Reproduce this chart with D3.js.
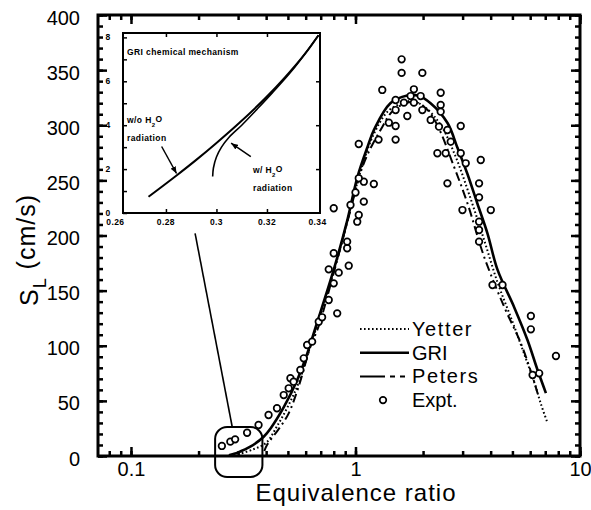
<!DOCTYPE html>
<html lang="en">
<head>
<meta charset="UTF-8">
<title>Laminar flame speed vs equivalence ratio</title>
<script src="https://d3js.org/d3.v7.min.js"></script>
<style>
  body { margin: 0; background: #fff; }
  svg { font-family: "Liberation Sans", Arial, Helvetica, sans-serif; }
  .frame { fill: none; stroke: #000; stroke-width: 3; }
  .ax .domain { display: none; }
  .ax .tick line { stroke: #000; stroke-width: 2.5; }
  .ax .tick text { font-size: 20px; fill: #000; }
  .inset-ax .domain { display: none; }
  .inset-ax .tick line { stroke: #000; stroke-width: 1.5; }
  .inset-lab { font-size: 8.5px; font-weight: bold; letter-spacing: 0.4px; }
</style>
</head>
<body>
<svg id="chart" width="591" height="510"></svg>
<script>
// GRI mechanism (solid)
const griPhi = [0.273, 0.286, 0.30, 0.34, 0.39, 0.42, 0.48, 0.55, 0.61, 0.665, 0.80, 0.92, 1.02, 1.13, 1.21, 1.43, 1.70, 1.89, 2.16, 2.57, 2.84, 3.15, 3.49, 3.87, 4.29, 5.09, 5.84, 6.47, 7.05];
const griSL  = [0.7, 1.8, 3.2, 8.4, 17.5, 25.5, 44.5, 69, 93, 117, 169, 214, 253, 280, 296, 320, 327, 327, 320, 302, 280, 256, 229, 202, 169, 135, 105, 78, 57];

// Yetter (dotted)
const yetterPhi = [0.30, 0.35, 0.40, 0.45, 0.50, 0.56, 0.63, 0.72, 0.82, 0.93, 1.05, 1.20, 1.40, 1.62, 1.80, 2.05, 2.40, 2.80, 3.20, 3.70, 4.30, 5.00, 5.70, 6.30, 6.70, 7.18];
const yetterSL  = [1.5, 6, 12, 28, 45, 67, 100, 136, 175, 217, 257, 291, 313, 320, 322, 316, 300, 271, 238, 199, 157, 122, 90, 65, 47, 29.6];

// Peters (dash-dot)
const petersPhi = [0.3925, 0.4035, 0.463, 0.504, 0.558, 0.630, 0.686, 0.829, 0.933, 1.089, 1.293, 1.483, 1.82, 2.09, 2.316, 2.747, 3.153, 3.739, 4.592, 5.452, 6.15, 6.472];
const petersSL  = [4.5, 10, 26.6, 38.7, 62.9, 99.1, 118, 177.8, 217, 265.5, 295.7, 313.8, 321.4, 314, 300, 262.4, 229.2, 180.8, 135.4, 102.2, 71.9, 56.9];

// Experiments (open circles)
const exptPhi = [0.254,0.277,0.291,0.329,0.370,0.410,0.447,0.479,0.504,0.513,
  0.530,0.568,0.588,0.609,0.641,0.686,0.710,0.829,0.760,0.800,
  0.760,0.842,0.933,0.800,0.918,0.918,1.018,1.034,0.800,0.950,
  1.089,1.000,1.207,1.089,1.034,1.034,1.267,1.509,1.408,1.509,
  1.316,1.605,1.605,1.985,1.820,2.396,1.509,1.643,1.820,1.760,
  1.951,1.509,1.985,1.701,2.162,2.354,2.567,2.943,2.396,2.396,
  2.656,2.316,2.522,2.943,3.098,3.614,2.567,3.552,3.552,2.995,
  4.006,3.552,3.552,3.552,4.076,4.517,6.042,6.042,7.814,6.150,6.580];
const exptSL = [9.1,13.0,15.1,21.1,28.1,37.2,43.3,55.3,61.4,70.5,
  67.4,78.0,88.6,100.7,103.7,121.8,125.8,129.4,141.5,156.6,
  169.3,166.3,172.6,183.9,188.4,194.4,212.5,218.6,224.7,227.7,
  230.7,239.0,246.7,248.8,251.9,283.0,287.0,287.0,302.3,299.3,
  332.0,359.8,347.5,347.5,332.6,329.5,322.9,320.5,320.5,326.5,
  326.5,313.8,313.8,308.4,304.8,298.7,295.7,299.3,318.4,312.3,
  285.1,274.6,274.6,274.6,265.5,268.5,247.3,247.3,234.6,223.1,
  223.1,212.5,205.0,194.4,155.1,155.1,127.0,114.9,90.7,73.5,75.0];

const yTicks = [0, 50, 100, 150, 200, 250, 300, 350, 400];
const xMajor = [0.1, 1, 10];

// inset: GRI near the lean limit
const woPhi = [0.2731, 0.2842, 0.2920, 0.2999, 0.3090, 0.3195, 0.3273, 0.3352, 0.3404];
const woSL  = [0.74, 1.71, 2.42, 3.18, 4.10, 5.25, 6.20, 7.27, 8.10];
const wPhi  = [0.2985, 0.2988, 0.3000, 0.3020, 0.3050, 0.3100, 0.3160, 0.3220, 0.3300, 0.3404];
const wSL   = [1.66, 2.05, 2.55, 3.00, 3.45, 4.00, 4.72, 5.46, 6.50, 8.10];
const insetXTicks = [0.26, 0.28, 0.30, 0.32, 0.34];
const insetXLabels = ["0.26", "0.28", "0.3", "0.32", "0.34"];
const insetYTicks = [0, 2, 4, 6, 8];

const svg = d3.select("#chart");
const x = d3.scaleLog().domain([0.0713, 10]).range([98, 580]);
const y = d3.scaleLinear().domain([0, 400]).range([456, 15]);

// axes, ticks inward on all four sides
const minorY = d3.range(0, 401, 10);
svg.append("g").attr("class", "ax").attr("transform", "translate(98,0)")
  .call(d3.axisLeft(y).tickValues(minorY).tickSize(-5).tickFormat(""));
svg.append("g").attr("class", "ax").attr("transform", "translate(98,0)")
  .call(d3.axisLeft(y).tickValues(yTicks).tickSize(-9).tickPadding(18))
  .selectAll("text").attr("dy", "0.45em");
svg.append("g").attr("class", "ax").attr("transform", "translate(580,0)")
  .call(d3.axisRight(y).tickValues(minorY).tickSize(-5).tickFormat(""));
svg.append("g").attr("class", "ax").attr("transform", "translate(580,0)")
  .call(d3.axisRight(y).tickValues(yTicks).tickSize(-9).tickFormat(""));

svg.append("g").attr("class", "ax").attr("transform", "translate(0,456)")
  .call(d3.axisBottom(x).tickValues(x.ticks()).tickSize(-5).tickFormat(""));
svg.append("g").attr("class", "ax").attr("transform", "translate(0,456)")
  .call(d3.axisBottom(x).tickValues(xMajor).tickSize(-9).tickPadding(6).tickFormat(d3.format("~g")));
svg.append("g").attr("class", "ax").attr("transform", "translate(0,15)")
  .call(d3.axisTop(x).tickValues(x.ticks()).tickSize(-5).tickFormat(""));
svg.append("g").attr("class", "ax").attr("transform", "translate(0,15)")
  .call(d3.axisTop(x).tickValues(xMajor).tickSize(-9).tickFormat(""));

svg.append("rect").attr("class", "frame")
  .attr("x", 98).attr("y", 15).attr("width", 482).attr("height", 441);

// axis titles
svg.append("text")
  .attr("x", 356).attr("y", 501)
  .attr("text-anchor", "middle")
  .style("font-size", "24px").style("letter-spacing", "1px")
  .text("Equivalence ratio");

const yl = svg.append("text")
  .attr("transform", "translate(38,250) rotate(-90)")
  .attr("text-anchor", "middle")
  .style("font-size", "25px").style("letter-spacing", "1px");
yl.append("tspan").text("S");
yl.append("tspan").attr("dy", "0.45em").style("font-size", "18px").text("L");
yl.append("tspan").attr("dy", "-0.45em").text(" (cm/s)");

// curves
const line = d3.line().x(d => x(d[0])).y(d => y(d[1])).curve(d3.curveCatmullRom.alpha(0.5));

svg.append("path").datum(d3.zip(yetterPhi, yetterSL))
  .attr("d", line).attr("fill", "none").attr("stroke", "#000")
  .attr("stroke-width", 2).attr("stroke-dasharray", "1.6,2.4");
svg.append("path").datum(d3.zip(petersPhi, petersSL))
  .attr("d", line).attr("fill", "none").attr("stroke", "#000")
  .attr("stroke-width", 2).attr("stroke-dasharray", "9,4,2,4");
svg.append("path").datum(d3.zip(griPhi, griSL))
  .attr("d", line).attr("fill", "none").attr("stroke", "#000")
  .attr("stroke-width", 2.6);

svg.append("g").selectAll("circle")
  .data(d3.zip(exptPhi, exptSL))
  .join("circle")
  .attr("cx", d => x(d[0])).attr("cy", d => y(d[1]))
  .attr("r", 3.3).attr("fill", "#fff").attr("stroke", "#000").attr("stroke-width", 1.7);

// legend
const leg = svg.append("g");
const legRows = [
  { name: "Yetter", dash: "1.6,2.4", w: 2, sp: 1.6 },
  { name: "GRI", dash: null, w: 2.6, sp: 0 },
  { name: "Peters", dash: "25,5,5,5,5", w: 2, sp: 1.6 },
  { name: "Expt.", dash: null, w: 0, sp: 0 }
];
legRows.forEach((r, i) => {
  const cy = 329 + i * 23.7;
  if (r.w > 0) {
    leg.append("line").attr("x1", 360).attr("x2", 409).attr("y1", cy).attr("y2", cy)
      .attr("stroke", "#000").attr("stroke-width", r.w)
      .attr("stroke-dasharray", r.dash);
  } else {
    leg.append("circle").attr("cx", 383).attr("cy", cy).attr("r", 3.3)
      .attr("fill", "#fff").attr("stroke", "#000").attr("stroke-width", 1.7);
  }
  leg.append("text").attr("x", 412).attr("y", cy + 7)
    .style("font-size", "20px").style("letter-spacing", r.sp + "px")
    .text(r.name);
});

// zoom box around the lean limit and its connector
svg.append("rect")
  .attr("x", x(0.237)).attr("y", y(26.3))
  .attr("width", x(0.385) - x(0.237)).attr("height", y(-19) - y(26.3))
  .attr("rx", 12).attr("fill", "none").attr("stroke", "#000").attr("stroke-width", 2);
svg.append("line")
  .attr("x1", x(0.193)).attr("y1", y(202))
  .attr("x2", x(0.2825)).attr("y2", y(26.3))
  .attr("stroke", "#000").attr("stroke-width", 1.6);

// inset
const ix = d3.scaleLinear().domain([0.263, 0.341]).range([123, 320]);
const iy = d3.scaleLinear().domain([0, 8.2]).range([213, 33]);
const inset = svg.append("g");

svg.append("defs").append("marker")
  .attr("id", "arrow").attr("viewBox", "0 0 10 8")
  .attr("refX", 10).attr("refY", 4)
  .attr("markerWidth", 7).attr("markerHeight", 6)
  .attr("markerUnits", "userSpaceOnUse").attr("orient", "auto")
  .append("path").attr("d", "M0,0 L10,4 L0,8 z").attr("fill", "#000");

inset.append("g").attr("class", "inset-ax").attr("transform", "translate(123,0)")
  .call(d3.axisLeft(iy).tickValues(d3.range(0, 9, 1)).tickSize(-4).tickFormat(""));
inset.append("g").attr("class", "inset-ax").attr("transform", "translate(320,0)")
  .call(d3.axisRight(iy).tickValues([2, 4, 6]).tickSize(-4).tickFormat(""));
inset.append("g").attr("class", "inset-ax").attr("transform", "translate(0,213)")
  .call(d3.axisBottom(ix).tickValues(insetXTicks.slice(1, 4)).tickSize(-4).tickFormat(""));
inset.append("g").attr("class", "inset-ax").attr("transform", "translate(0,33)")
  .call(d3.axisTop(ix).tickValues(insetXTicks.slice(1, 4)).tickSize(-4).tickFormat(""));

inset.append("rect").attr("x", 123).attr("y", 33).attr("width", 197).attr("height", 180)
  .attr("fill", "none").attr("stroke", "#000").attr("stroke-width", 2);

inset.selectAll(".ixl").data(insetXTicks).join("text")
  .attr("class", "inset-lab").attr("x", d => ix(d)).attr("y", 225)
  .attr("text-anchor", "middle")
  .text((d, i) => insetXLabels[i]);
inset.selectAll(".iyl").data(insetYTicks).join("text")
  .attr("class", "inset-lab").attr("x", 108).attr("y", d => iy(d) + 3)
  .attr("text-anchor", "middle")
  .text(d => d);

const iline = d3.line().x(d => ix(d[0])).y(d => iy(d[1])).curve(d3.curveCatmullRom.alpha(0.5));
inset.append("path").datum(d3.zip(woPhi, woSL)).attr("d", iline)
  .attr("fill", "none").attr("stroke", "#000").attr("stroke-width", 2);
inset.append("path").datum(d3.zip(wPhi, wSL)).attr("d", iline)
  .attr("fill", "none").attr("stroke", "#000").attr("stroke-width", 1.6);

inset.append("text").attr("class", "inset-lab").attr("x", 127).attr("y", 55)
  .text("GRI chemical mechanism");

const t1 = inset.append("text").attr("class", "inset-lab").attr("x", 127).attr("y", 123);
t1.append("tspan").text("w/o H");
t1.append("tspan").attr("dy", "0.6em").style("font-size", "6px").text("2");
t1.append("tspan").attr("dy", "-0.6em").text("O");
inset.append("text").attr("class", "inset-lab").attr("x", 127).attr("y", 141).text("radiation");

const t2 = inset.append("text").attr("class", "inset-lab").attr("x", 253).attr("y", 173);
t2.append("tspan").text("w/ H");
t2.append("tspan").attr("dy", "0.6em").style("font-size", "6px").text("2");
t2.append("tspan").attr("dy", "-0.6em").text("O");
inset.append("text").attr("class", "inset-lab").attr("x", 253).attr("y", 191).text("radiation");

inset.append("line")
  .attr("x1", ix(0.2783)).attr("y1", iy(3.03)).attr("x2", ix(0.2842)).attr("y2", iy(1.80))
  .attr("stroke", "#000").attr("stroke-width", 1.5).attr("marker-end", "url(#arrow)");
inset.append("line")
  .attr("x1", ix(0.3136)).attr("y1", iy(2.57)).attr("x2", ix(0.3058)).attr("y2", iy(3.18))
  .attr("stroke", "#000").attr("stroke-width", 1.5).attr("marker-end", "url(#arrow)");
</script>
</body>
</html>
